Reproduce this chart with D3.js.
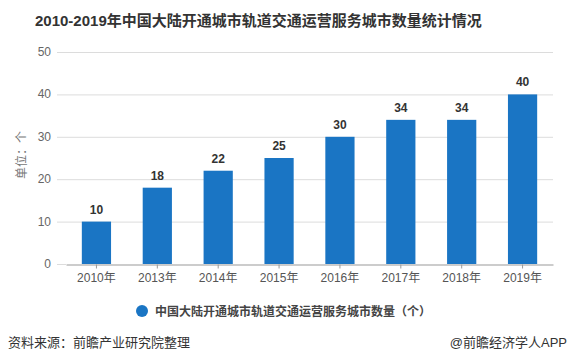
<!DOCTYPE html>
<html><head><meta charset="utf-8">
<script src="https://cdn.jsdelivr.net/npm/d3@7/dist/d3.min.js"></script>
<style>
html,body{margin:0;padding:0;background:#fff;}
text{font-family:"Liberation Sans","Noto Sans CJK SC",sans-serif;}
</style></head>
<body><svg id="c" width="567" height="363"></svg>
<script>
const categories = ["2010年","2013年","2014年","2015年","2016年","2017年","2018年","2019年"];
const values = [10,18,22,25,30,34,34,40];
const yTicks = [0,10,20,30,40,50];
const seriesName = "中国大陆开通城市轨道交通运营服务城市数量（个）";
const title = "2010-2019年中国大陆开通城市轨道交通运营服务城市数量统计情况";
const yTitle = "单位：个";
const source = "资料来源：前瞻产业研究院整理";
const credit = "@前瞻经济学人APP";

const svg = d3.select("#c");
const barColor = "#1a75c4";
const x = d3.scaleBand().domain(categories).range([66, 553]).paddingInner(0.52).paddingOuter(0.26);
const y = d3.scaleLinear().domain([0, 50]).range([264, 52]);

svg.append("text").attr("x", 35).attr("y", 26).attr("font-size", 15).attr("font-weight", "bold")
  .attr("fill", "#333").text(title);

// gridlines
svg.append("g").selectAll("line").data(yTicks.filter(d => d > 0)).join("line")
  .attr("x1", 57).attr("x2", 553).attr("y1", d => y(d) + 0.5).attr("y2", d => y(d) + 0.5)
  .attr("stroke", "#dcdcdc").attr("stroke-width", 1);

// y labels
svg.append("g").selectAll("text").data(yTicks).join("text")
  .attr("x", 51).attr("y", d => y(d) + 4).attr("text-anchor", "end")
  .attr("font-size", 12).attr("fill", "#666").text(d => d);

svg.append("text").attr("transform", `translate(26,155) rotate(-90)`).attr("text-anchor", "middle")
  .attr("font-size", 12).attr("fill", "#777").text(yTitle);

// bars
svg.append("g").selectAll("rect").data(values).join("rect")
  .attr("x", (d, i) => x(categories[i])).attr("width", x.bandwidth())
  .attr("y", d => y(d)).attr("height", d => y(0) - y(d)).attr("fill", barColor);

// value labels
svg.append("g").selectAll("text").data(values).join("text")
  .attr("x", (d, i) => x(categories[i]) + x.bandwidth() / 2).attr("y", d => y(d) - 8)
  .attr("text-anchor", "middle").attr("font-size", 12).attr("font-weight", "bold")
  .attr("fill", "#333").text(d => d);

// x axis
const xa = d3.axisBottom(x).tickSize(4).tickSizeOuter(0);
const gx = svg.append("g").attr("transform", "translate(0,264.5)").call(xa);
gx.select(".domain").attr("stroke", "#999");
gx.selectAll(".tick line").attr("stroke", "#999");
gx.selectAll(".tick text").attr("font-size", 12).attr("fill", "#555").attr("dy", "0.9em")
  .style("font-family", '"Liberation Sans","Noto Sans CJK SC",sans-serif');
svg.append("line").attr("x1", 57).attr("x2", 66).attr("y1", 264.5).attr("y2", 264.5).attr("stroke", "#dcdcdc");

// legend
svg.append("circle").attr("cx", 142).attr("cy", 311).attr("r", 6).attr("fill", barColor);
svg.append("text").attr("x", 155).attr("y", 315.5).attr("font-size", 12).attr("font-weight", "bold")
  .attr("fill", "#444").text(seriesName);

// footer
svg.append("text").attr("x", 8).attr("y", 347).attr("font-size", 13).attr("fill", "#333").text(source);
svg.append("text").attr("x", 567).attr("y", 347).attr("text-anchor", "end").attr("font-size", 13)
  .attr("fill", "#333").text(credit);
</script></body></html>
